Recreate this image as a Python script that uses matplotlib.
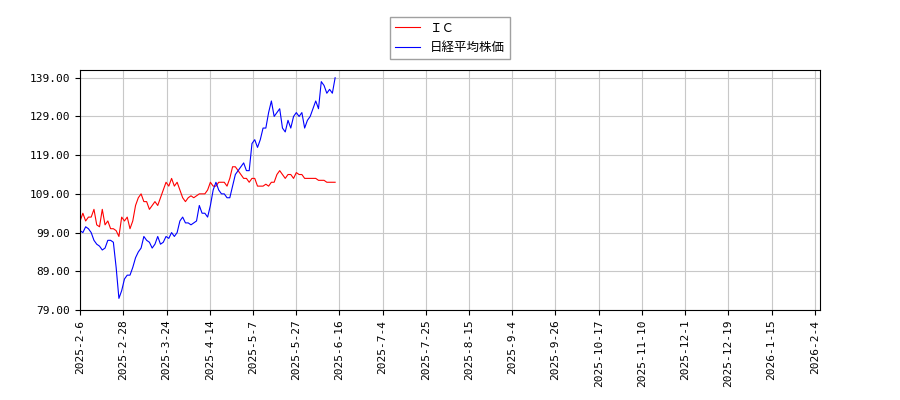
import matplotlib
matplotlib.use("Agg")
import matplotlib.pyplot as plt
import numpy as np

plt.rcParams['font.family'] = ['Noto Sans CJK JP', 'DejaVu Sans']

ic = [102,104,102,103,103,105,101,100.5,105,101,102,100,100,99.5,98,103,102,103,100,102,106,108,109,107,107,105,106,107,106,108,110,112,111,113,111,112,110,108,107,108,108.5,108,108.5,109,109,109,110,112,111,111,112,112,112,111,113,116,116,115,114,113,113,112,113,113,111,111,111,111.5,111,112,112,114,115,114,113,114,114,113,114.5,114,114,113,113,113,113,113,112.5,112.5,112.5,112,112,112,112]
nikkei = [99.5,99,100.5,100,99,97,96,95.5,94.5,95,97,97,96.5,90,82,84,87,88,88,90,92.5,94,95,98,97,96.5,95,96,98,96,96.5,98,97.5,99,98,99,102,103,101.5,101.5,101,101.5,102,106,104,104,103,106,110,112,110,109,109,108,108,111,114,115,116,117,115,115,122,123,121,123,126,126,130,133,129,130,131,126,125,128,126,129,130,129,130,126,128,129,131,133,131,138,137,135,136,135,139]
tick_labels = ['2025-2-6','2025-2-28','2025-3-24','2025-4-14','2025-5-7','2025-5-27','2025-6-16','2025-7-4','2025-7-25','2025-8-15','2025-9-4','2025-9-26','2025-10-17','2025-11-10','2025-12-1','2025-12-19','2026-1-15','2026-2-4']
yticks = [79,89,99,109,119,129,139]

# trading-day position of each sample (samples roughly every 2.78 trading days)
x = np.arange(len(ic)) * 255 / 265
fig = plt.figure(figsize=(9,4), dpi=100)
ax = fig.add_axes([0.089, 0.225, 0.822, 0.6])
ax.plot(x, ic, color='red', lw=0.8, label='ＩＣ')
ax.plot(x, nikkei, color='blue', lw=0.8, label='日経平均株価')
ax.set_xticks(np.arange(len(tick_labels)) * 15)
ax.set_xticklabels(tick_labels, rotation=90, fontsize=8, family=['DejaVu Sans Mono'])
ax.set_yticks(yticks)
ax.set_yticklabels([f'{v:.2f}' for v in yticks], fontsize=8, family=['DejaVu Sans Mono'])
ax.set_xlim(0, 256.8)
ax.set_ylim(79, 141)
ax.grid(True, color='#c8c8c8', lw=0.8)
ax.legend(loc='lower center', bbox_to_anchor=(0.5, 1.02), fontsize=9, fancybox=False, edgecolor='#888888')
fig.savefig('out.png')
